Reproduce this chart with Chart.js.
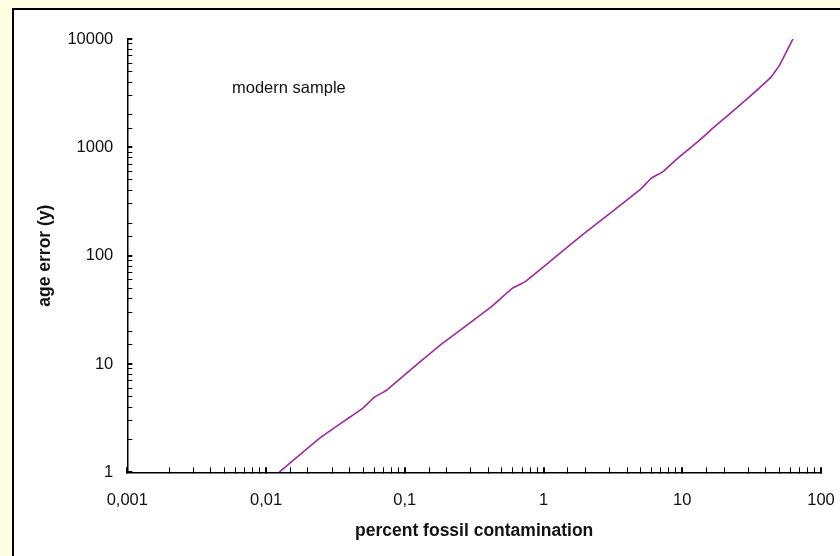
<!DOCTYPE html>
<html>
<head>
<meta charset="utf-8">
<script src="https://cdn.jsdelivr.net/npm/chart.js@4"></script>
<style>
  html, body { margin: 0; padding: 0; background: #fffde2; }
  #chart { display: block; }
</style>
</head>
<body>
<canvas id="chart" width="840" height="556"></canvas>
<script>
// percent fossil contamination vs age error
const percentFossil = [0.0124, 0.0244, 0.0403, 0.0499, 0.0608, 0.0741, 0.128, 0.188, 0.41, 0.601, 0.733,
  1.31, 2.04, 4.94, 6.0, 7.27, 9.57, 13.4, 16.7, 30.6, 43.9, 50.4, 62.8];
const ageError = [1, 2.07, 3.24, 3.92, 4.96, 5.75, 10.4, 15.6, 32.9, 50.3, 57.2,
  105, 167, 404, 519, 597, 821, 1170, 1510, 2940, 4498, 5768, 10000];
const xRange = [0.001, 100];
const yRange = [1, 10000];
const note = 'modern sample';

const points = percentFossil.map((x, i) => ({ x: x, y: ageError[i] }));

function isDecade(v) {
  const l = Math.log10(v);
  return Math.abs(l - Math.round(l)) < 1e-9;
}
function decadeLabel(v) {
  if (!isDecade(v)) return '';
  return String(Number(v.toPrecision(6))).replace('.', ',');
}

const frame = {
  id: 'frame',
  beforeDraw(chart) {
    const c = chart.ctx;
    c.save();
    c.fillStyle = '#fffde2';
    c.fillRect(0, 0, chart.width, chart.height);
    c.fillStyle = '#ffffff';
    c.fillRect(13, 9, chart.width - 13, chart.height - 9);
    c.strokeStyle = '#000000';
    c.lineWidth = 2;
    c.beginPath();
    c.moveTo(13, chart.height);
    c.lineTo(13, 9);
    c.lineTo(chart.width, 9);
    c.stroke();
    c.restore();
  },
  afterDraw(chart) {
    const c = chart.ctx;
    c.save();
    c.fillStyle = '#111111';
    c.font = '16.5px "Liberation Sans", Arial, sans-serif';
    c.textBaseline = 'middle';
    c.fillText(note, 232, 88);
    c.restore();
  }
};

const tickFont = { family: '"Liberation Sans", Arial, sans-serif', size: 16.5 };
const titleFont = { family: '"Liberation Sans", Arial, sans-serif', size: 17.5, weight: 'bold' };

new Chart(document.getElementById('chart'), {
  type: 'scatter',
  data: {
    datasets: [{
      data: points,
      showLine: true,
      borderColor: 'rgb(160,40,165)',
      borderWidth: 1.6,
      pointRadius: 0,
      tension: 0.1
    }]
  },
  options: {
    responsive: false,
    animation: false,
    layout: { padding: { left: 0, top: 39, right: 19, bottom: 0 } },
    plugins: { legend: { display: false }, tooltip: { enabled: false } },
    scales: {
      x: {
        type: 'logarithmic',
        min: xRange[0],
        max: xRange[1],
        afterFit: s => { s.height = 83.7; s.paddingLeft = 0; s.paddingRight = 0; },
        border: { color: '#000', width: 1.5 },
        grid: {
          drawOnChartArea: false,
          drawTicks: true,
          tickLength: -5,
          color: '#000',
          lineWidth: c => (c.tick && isDecade(c.tick.value) ? 2 : 1)
        },
        ticks: {
          autoSkip: false,
          maxRotation: 0,
          padding: 23,
          color: '#111',
          font: tickFont,
          callback: v => decadeLabel(v)
        },
        title: {
          display: true,
          text: 'percent fossil contamination',
          color: '#111',
          font: titleFont,
          padding: { top: 0, bottom: 14.5 }
        }
      },
      y: {
        type: 'logarithmic',
        min: yRange[0],
        max: yRange[1],
        afterFit: s => { s.width = 127.3; },
        border: { color: '#000', width: 1.5 },
        grid: {
          drawOnChartArea: false,
          drawTicks: true,
          tickLength: -5,
          color: '#000',
          lineWidth: c => (c.tick && isDecade(c.tick.value) ? 2 : 1)
        },
        ticks: {
          autoSkip: false,
          padding: 19,
          color: '#111',
          font: tickFont,
          callback: v => decadeLabel(v)
        },
        title: {
          display: true,
          text: 'age error (y)',
          color: '#111',
          font: titleFont,
          padding: { top: 35, bottom: 0 }
        }
      }
    }
  },
  plugins: [frame]
});
</script>
</body>
</html>
